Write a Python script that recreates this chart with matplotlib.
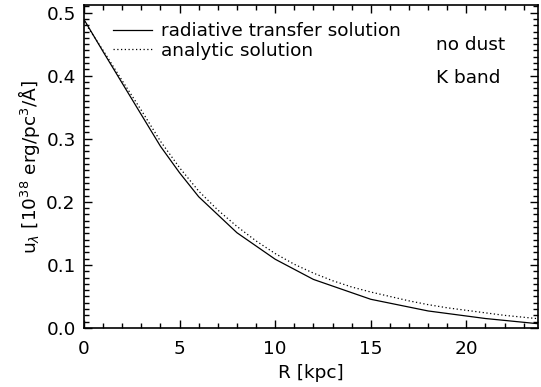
import matplotlib.pyplot as plt
from matplotlib.ticker import MultipleLocator

# radial positions [kpc] and energy density values
r_rt = [0, 1, 2, 3, 4, 5, 6, 8, 10, 12, 15, 18, 21, 24]
u_rt = [0.489, 0.438, 0.388, 0.338, 0.288, 0.246, 0.208, 0.151, 0.109, 0.077,
        0.0455, 0.027, 0.015, 0.006]

r_an = [0, 1, 2, 3, 4, 5, 6, 7, 8, 9, 10, 11, 12, 13, 14, 15, 16, 17, 18,
        19, 20, 21, 22, 23, 24]
u_an = [0.486, 0.440, 0.392, 0.345, 0.296, 0.254, 0.217, 0.187, 0.161, 0.138,
        0.118, 0.101, 0.087, 0.075, 0.065, 0.057, 0.050, 0.043, 0.037, 0.032,
        0.028, 0.024, 0.020, 0.017, 0.014]

labels = ['radiative transfer solution', 'analytic solution']
notes = ['no dust', 'K band']

FS = 13.3

plt.rcParams['font.family'] = ['DejaVu Sans']
plt.rcParams['font.size'] = FS

fig = plt.figure(figsize=(5.41, 3.87), dpi=100)
ax = fig.add_axes([0.1553, 0.1525, 0.8392, 0.8345])

ax.plot(r_rt, u_rt, color='black', lw=0.9, label=labels[0])
ax.plot(r_an, u_an, color='black', lw=0.9, linestyle=(0, (1, 2)), label=labels[1])

ax.set_xlim(0, 23.75)
ax.set_ylim(0, 0.512)

ax.xaxis.set_major_locator(MultipleLocator(5))
ax.xaxis.set_minor_locator(MultipleLocator(1))
ax.yaxis.set_major_locator(MultipleLocator(0.1))
ax.yaxis.set_minor_locator(MultipleLocator(0.01))
ax.yaxis.set_major_formatter(plt.FuncFormatter(lambda v, p: f'{v:.1f}'))

ax.tick_params(which='both', direction='in', top=True, right=True, width=1.0,
               labelsize=FS)
ax.tick_params(axis='x', pad=9)
ax.tick_params(axis='y', pad=6)
ax.tick_params(which='major', length=6)
ax.tick_params(which='minor', length=3.5)
for s in ax.spines.values():
    s.set_linewidth(1.2)

ax.set_xlabel('R [kpc]', fontsize=FS, labelpad=4)
ax.set_ylabel(r'u$_\lambda$ [10$^{38}$ erg/pc$^3$/Å]', fontsize=FS, labelpad=3)

ax.legend(loc='upper left', frameon=False, handlelength=2.1, handletextpad=0.5,
          borderpad=0, borderaxespad=0, labelspacing=0.08, fontsize=FS,
          bbox_to_anchor=(0.064, 0.947))

ax.text(0.775, 0.876, notes[0], transform=ax.transAxes, fontsize=FS, va='center')
ax.text(0.775, 0.774, notes[1], transform=ax.transAxes, fontsize=FS, va='center')

fig.savefig('out.png', dpi=100)
